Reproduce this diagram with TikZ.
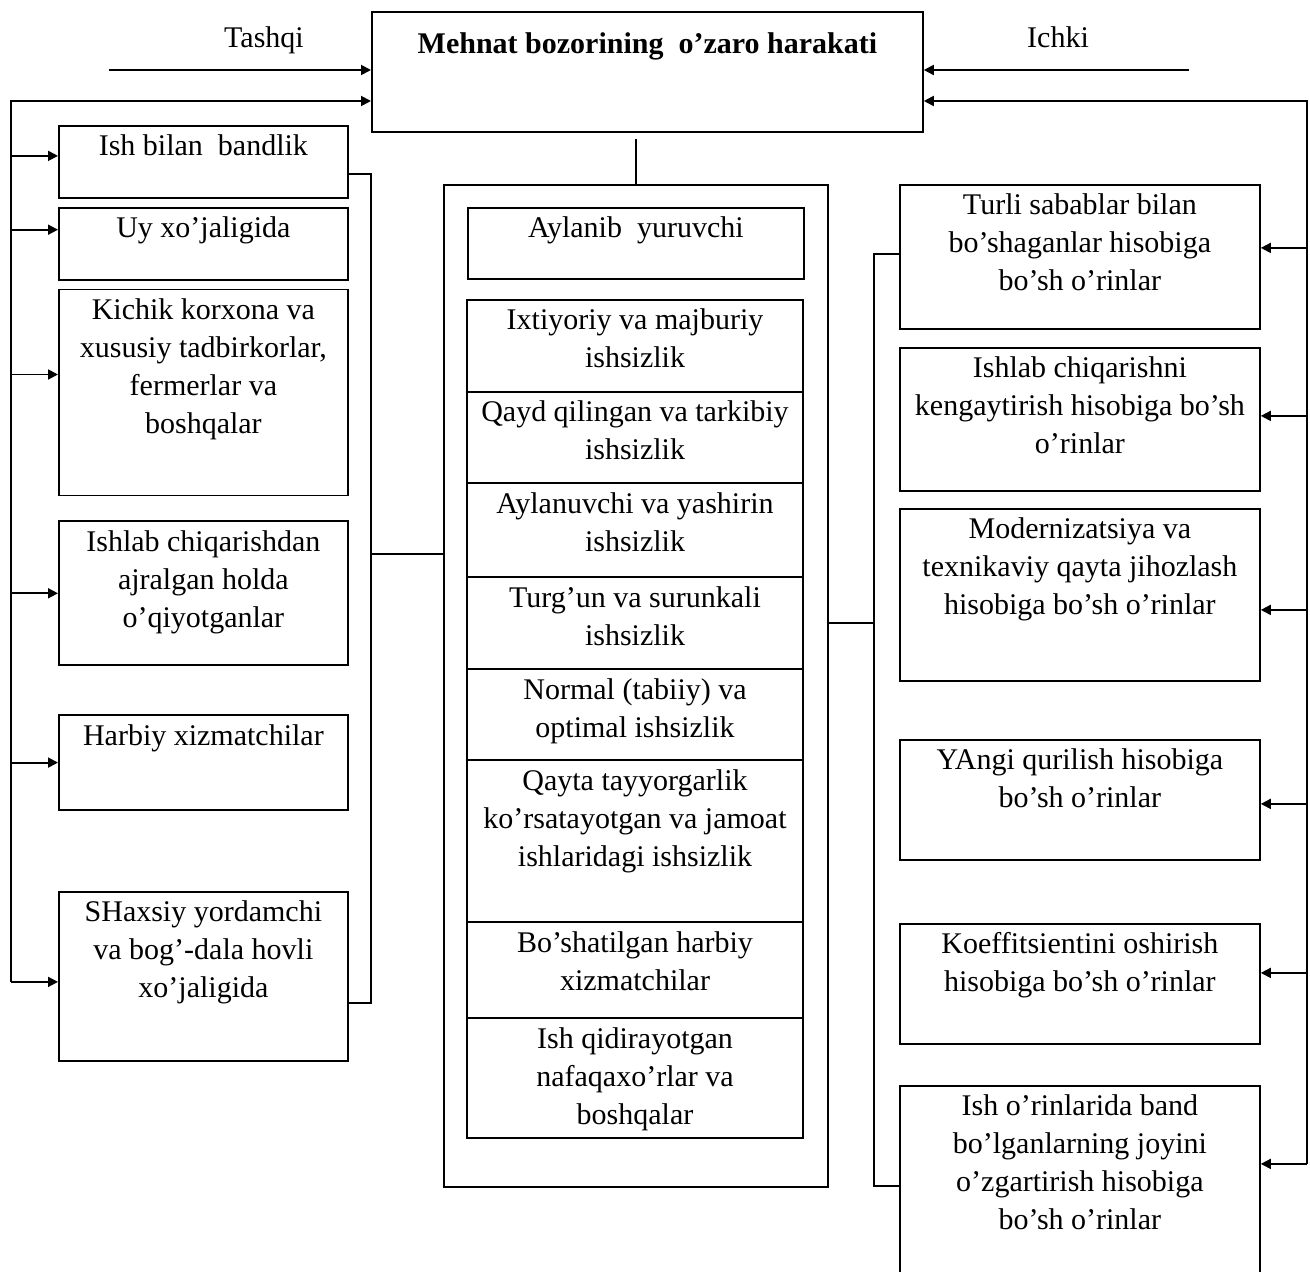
\documentclass[tikz,border=0pt]{standalone}
\usepackage{fontspec}
\setmainfont{Liberation Serif}
\usetikzlibrary{arrows.meta,positioning}

\newlength{\px}
\setlength{\px}{0.5pt}
% box contents: text set at the top of a W x H (px) area
\newcommand{\boxtxt}[3]{\parbox[t][#2\px][t]{#1\px}{\centering\rule{0pt}{15pt}#3}}

\begin{document}
\begin{tikzpicture}[
  x=0.5pt, y=-0.5pt,
  font=\fontsize{15}{19}\selectfont,
  box/.style={draw,line width=0.9pt,inner sep=0pt,anchor=north west},
  stack/.style={box,outer sep=0pt},
  arrow/.style={-{Triangle[length=5pt,width=5pt]},line width=0.9pt},
  link/.style={line width=0.9pt},
]
\useasboundingbox (0,0) rectangle (1310,1272);

% main box and its two inputs
\node[box] (main) at (371,11) {\boxtxt{551}{120}{\rule{0pt}{21pt}\textbf{Mehnat bozorining\ \ o’zaro harakati}}};
\node[anchor=base] (tq) at (264,48) {Tashqi};
\node[anchor=base] (ic) at (1058,48) {Ichki};
\coordinate (tqs) at (109,70);
\coordinate (ics) at (1189,70);
\draw[arrow] (tqs) -- (main.west |- tqs);
\draw[arrow] (ics) -- (main.east |- ics);

% left column
\node[box] (l1) at (58,125) {\boxtxt{289}{72}{Ish bilan\ \ bandlik}};
\node[box,below=4pt of l1] (l2) {\boxtxt{289}{72}{Uy xo’jaligida}};
\node[box,below=4pt of l2] (l3) {\boxtxt{289}{206}{Kichik korxona va\\xususiy tadbirkorlar,\\fermerlar va\\boshqalar}};
\node[box,below=12pt of l3] (l4) {\boxtxt{289}{144}{Ishlab chiqarishdan\\ajralgan holda\\o’qiyotganlar}};
\node[box,below=24pt of l4] (l5) {\boxtxt{289}{95}{Harbiy xizmatchilar}};
\node[box,below=40pt of l5] (l6) {\boxtxt{289}{169}{SHaxsiy yordamchi\\va bog’-dala hovli\\xo’jaligida}};

% middle column
\node[box] (frame) at (443,184) {\boxtxt{384}{1002}{}};
\node[box] (m0) at (467,207) {\boxtxt{336}{71}{Aylanib\ \ yuruvchi}};
\node[stack] (m1) at (467,300) {\boxtxt{336}{92}{Ixtiyoriy va majburiy\\ishsizlik}};
\node[stack,below=0pt of m1] (m2) {\boxtxt{336}{91}{Qayd qilingan va tarkibiy\\ishsizlik}};
\node[stack,below=0pt of m2] (m3) {\boxtxt{336}{94}{Aylanuvchi va yashirin\\ishsizlik}};
\node[stack,below=0pt of m3] (m4) {\boxtxt{336}{92}{Turg’un va surunkali\\ishsizlik}};
\node[stack,below=0pt of m4] (m5) {\boxtxt{336}{91}{Normal (tabiiy) va\\optimal ishsizlik}};
\node[stack,below=0pt of m5] (m6) {\boxtxt{336}{162}{Qayta tayyorgarlik\\ko’rsatayotgan va jamoat\\ishlaridagi ishsizlik}};
\node[stack,below=0pt of m6] (m7) {\boxtxt{336}{96}{Bo’shatilgan harbiy\\xizmatchilar}};
\node[stack,below=0pt of m7] (m8) {\boxtxt{336}{120}{Ish qidirayotgan\\nafaqaxo’rlar va\\boshqalar}};

% right column
\node[box] (r1) at (899,184) {\boxtxt{360}{144}{Turli sabablar bilan\\bo’shaganlar hisobiga\\bo’sh o’rinlar}};
\node[box] (r2) at (899,347) {\boxtxt{360}{143}{Ishlab chiqarishni\\kengaytirish hisobiga bo’sh\\o’rinlar}};
\node[box] (r3) at (899,508) {\boxtxt{360}{172}{Modernizatsiya va\\texnikaviy qayta jihozlash\\hisobiga bo’sh o’rinlar}};
\node[box] (r4) at (899,739) {\boxtxt{360}{120}{YAngi qurilish hisobiga\\bo’sh o’rinlar}};
\node[box] (r5) at (899,923) {\boxtxt{360}{120}{Koeffitsientini oshirish\\hisobiga bo’sh o’rinlar}};
\node[box] (r6) at (899,1085) {\boxtxt{360}{200}{Ish o’rinlarida band\\bo’lganlarning joyini\\o’zgartirish hisobiga\\bo’sh o’rinlar}};

% feedback buses
\coordinate (lbus) at (11,101);
\coordinate (rbus) at (1307,101);
\draw[arrow] ([yshift=-2.75pt]l6.west -| lbus) -- (lbus) -- (main.west |- lbus);
\draw[arrow] ([yshift=11pt]r6.east -| rbus) -- (rbus) -- (main.east |- rbus);
\foreach \b/\s in {l1/3,l2/7,l3/9,l4/0,l5/0,l6/-2.75}
  \draw[arrow] ([yshift=\s pt]\b.west -| lbus) -- ([yshift=\s pt]\b.west);
\foreach \b/\s in {r1/4.5,r2/1.75,r3/-7.5,r4/-2,r5/5.5,r6/11}
  \draw[arrow] ([yshift=\s pt]\b.east -| rbus) -- ([yshift=\s pt]\b.east);

% brackets into the middle frame
\coordinate (lbr) at (371,554);
\coordinate (rbr) at (874,623);
\draw[link] ([yshift=-6pt]l1.east) -| (lbr) |- ([yshift=-13.25pt]l6.east);
\draw[link] (lbr) -- (lbr -| frame.west);
\draw[link] ([yshift=1.5pt]r1.west) -| (rbr) |- (r6.west);
\draw[link] (rbr) -- (rbr -| frame.east);
\draw[link,shorten >=3pt] (frame.north) -- (frame.north |- main.south);
\end{tikzpicture}
\end{document}
